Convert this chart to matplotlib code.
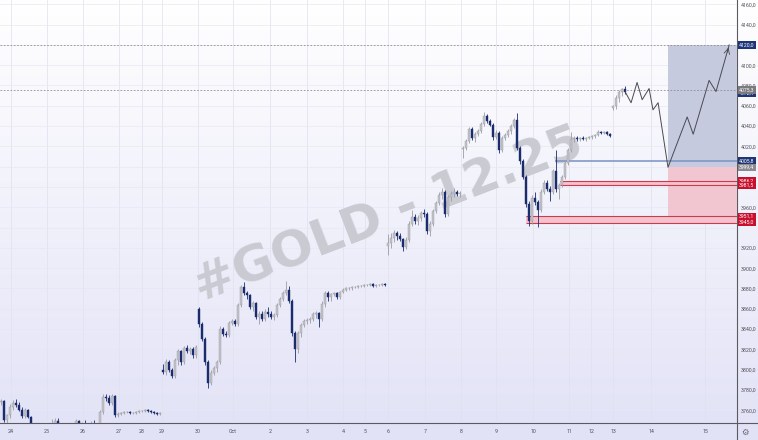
import matplotlib.pyplot as plt
import matplotlib.transforms as mtransforms
from matplotlib.colors import LinearSegmentedColormap
import numpy as np

plt.rcParams['font.family'] = ['Roboto', 'DejaVu Sans']

# 2h candles, index based x axis (weekends kept as in the source)
opens = [3768, 3769, 3750, 3755, 3763, 3767, 3765, 3760, 3754, 3760, 3753, 3740, 3735, 3738, 3733, 3740, 3736,
         3742, 3746, 3749, 3745, 3740, 3736, 3738, 3740, 3744, 3749, 3741, 3745, 3742, 3745, 3747, 3745,
         3742, 3758, 3773, 3772, 3767, 3774, 3755, 3756, 3757, 3758, 3758, 3757, 3757, 3758, 3759, 3759,
         3760, 3759, 3758, 3757, 3756,
         3800, 3798, 3808, 3800, 3794, 3810, 3818, 3808, 3821, 3818, 3820, 3814, 3860, 3845, 3830, 3808,
         3787, 3797, 3802, 3808, 3840, 3835, 3834, 3846, 3848, 3845, 3864, 3881, 3876, 3874, 3862, 3866,
         3852, 3855, 3850, 3857, 3855, 3852, 3854, 3864, 3870, 3876, 3879, 3868, 3836, 3820, 3836, 3844,
         3848, 3849, 3850, 3855, 3856, 3850, 3865, 3876, 3872, 3875, 3876, 3872, 3877, 3879, 3880, 3880,
         3881, 3881, 3882, 3882, 3883, 3883, 3884, 3882, 3883, 3883, 3884,
         3922, 3925, 3930, 3935, 3932, 3929, 3921, 3928, 3944, 3950, 3946, 3949, 3954, 3953, 3937, 3944,
         3956, 3964, 3972, 3975, 3953, 3970, 3973, 3975, 3973,
         4017, 4018, 4025, 4037, 4028, 4032, 4035, 4042, 4050, 4045, 4041, 4029, 4033, 4016, 4028, 4031,
         4035, 4040, 4046, 4018, 4006, 3990, 3963, 3946, 3969, 3965, 3957, 3975, 3984, 3978, 3975, 3996,
         3978, 3982, 3990, 4004, 4016, 4027, 4028, 4027, 4028, 4027, 4028, 4029, 4030, 4031, 4034, 4033,
         4034, 4032,
         4058, 4060, 4068, 4074, 4077]
highs = [3771, 3770, 3756, 3766, 3770, 3771, 3768, 3763, 3762, 3761, 3754, 3743, 3740, 3741, 3742, 3744, 3745,
         3751, 3752, 3752, 3747, 3743, 3740, 3742, 3745, 3751, 3750, 3748, 3750, 3747, 3749, 3750, 3747,
         3760, 3776, 3776, 3775, 3776, 3775, 3758, 3758, 3759, 3759, 3759, 3758, 3759, 3760, 3760, 3761,
         3761, 3760, 3759, 3758, 3758,
         3806, 3811, 3810, 3802, 3812, 3820, 3819, 3823, 3824, 3822, 3822, 3824, 3862, 3847, 3832, 3810,
         3800, 3804, 3810, 3843, 3842, 3838, 3848, 3850, 3850, 3866, 3883, 3886, 3878, 3875, 3868, 3867,
         3858, 3858, 3860, 3862, 3858, 3856, 3866, 3872, 3878, 3887, 3882, 3870, 3838, 3838, 3846, 3850,
         3851, 3852, 3857, 3858, 3857, 3868, 3878, 3878, 3876, 3877, 3877, 3878, 3880, 3881, 3881, 3882,
         3882, 3883, 3883, 3884, 3884, 3885, 3885, 3884, 3884, 3885, 3885,
         3934, 3935, 3938, 3937, 3935, 3930, 3931, 3946, 3957, 3953, 3952, 3956, 3958, 3955, 3946, 3958,
         3966, 3975, 3979, 3977, 3972, 3976, 3979, 3977, 3976,
         4020, 4027, 4039, 4039, 4034, 4037, 4044, 4054, 4052, 4047, 4043, 4036, 4035, 4030, 4033, 4037,
         4042, 4048, 4053, 4020, 4008, 3992, 3966, 3972, 3975, 3967, 3978, 3987, 3987, 3981, 3998, 4016,
         3984, 3992, 4006, 4018, 4034, 4030, 4030, 4029, 4030, 4029, 4030, 4031, 4032, 4036, 4035, 4035,
         4035, 4033,
         4061, 4071, 4076, 4078, 4079]
lows = [3765, 3748, 3746, 3752, 3760, 3763, 3759, 3752, 3752, 3752, 3738, 3732, 3730, 3731, 3730, 3734, 3734,
        3740, 3744, 3744, 3738, 3733, 3732, 3734, 3737, 3742, 3739, 3739, 3740, 3738, 3742, 3743, 3740,
        3741, 3756, 3769, 3765, 3765, 3753, 3753, 3755, 3756, 3757, 3756, 3756, 3756, 3757, 3758, 3758,
        3758, 3757, 3756, 3755, 3755,
        3796, 3795, 3798, 3792, 3792, 3805, 3805, 3806, 3816, 3815, 3812, 3812, 3842, 3828, 3805, 3782,
        3785, 3795, 3798, 3806, 3833, 3832, 3832, 3844, 3843, 3843, 3862, 3874, 3870, 3860, 3858, 3850,
        3845, 3848, 3848, 3852, 3850, 3849, 3852, 3862, 3868, 3874, 3866, 3833, 3808, 3816, 3832, 3842,
        3845, 3846, 3848, 3851, 3842, 3848, 3862, 3868, 3868, 3873, 3870, 3870, 3876, 3878, 3879, 3879,
        3880, 3880, 3881, 3881, 3882, 3882, 3881, 3881, 3882, 3882, 3882,
        3913, 3920, 3926, 3928, 3927, 3917, 3919, 3926, 3942, 3944, 3943, 3946, 3950, 3934, 3932, 3942,
        3954, 3962, 3968, 3950, 3951, 3966, 3970, 3971, 3970,
        4009, 4016, 4023, 4026, 4024, 4030, 4033, 4040, 4043, 4040, 4026, 4027, 4013, 4014, 4026, 4029,
        4032, 4038, 4016, 4003, 3988, 3960, 3942, 3944, 3962, 3941, 3955, 3973, 3976, 3966, 3973, 3975,
        3968, 3980, 3988, 4002, 4014, 4024, 4025, 4025, 4026, 4025, 4027, 4027, 4028, 4030, 4032, 4032,
        4031, 4029,
        4056, 4057, 4064, 4070, 4072]
closes = [3769, 3750, 3755, 3763, 3767, 3765, 3760, 3754, 3760, 3753, 3740, 3735, 3738, 3733, 3740, 3736, 3742,
          3746, 3749, 3745, 3740, 3736, 3738, 3740, 3744, 3749, 3741, 3745, 3742, 3745, 3747, 3745, 3742,
          3758, 3773, 3772, 3767, 3774, 3755, 3756, 3757, 3758, 3758, 3757, 3757, 3758, 3759, 3759, 3760,
          3759, 3758, 3757, 3756, 3757,
          3798, 3808, 3800, 3794, 3810, 3818, 3808, 3821, 3818, 3820, 3814, 3822, 3845, 3830, 3808, 3787,
          3797, 3802, 3808, 3840, 3835, 3834, 3846, 3848, 3845, 3864, 3881, 3876, 3874, 3862, 3866, 3852,
          3855, 3850, 3857, 3855, 3852, 3854, 3864, 3870, 3876, 3879, 3868, 3836, 3820, 3836, 3844, 3848,
          3849, 3850, 3855, 3856, 3850, 3865, 3876, 3872, 3875, 3876, 3872, 3877, 3879, 3880, 3880, 3881,
          3881, 3882, 3882, 3883, 3883, 3884, 3882, 3883, 3883, 3884, 3883,
          3925, 3930, 3935, 3932, 3929, 3921, 3928, 3944, 3950, 3946, 3949, 3954, 3953, 3937, 3944, 3956,
          3964, 3972, 3975, 3953, 3970, 3973, 3975, 3973, 3974,
          4018, 4025, 4037, 4028, 4032, 4035, 4042, 4050, 4045, 4041, 4029, 4033, 4016, 4028, 4031, 4035,
          4040, 4046, 4018, 4006, 3990, 3963, 3946, 3969, 3965, 3957, 3975, 3984, 3978, 3975, 3996, 3978,
          3982, 3990, 4004, 4016, 4027, 4028, 4027, 4028, 4027, 4028, 4029, 4030, 4031, 4034, 4033, 4034,
          4032, 4030,
          4060, 4068, 4074, 4077, 4074]

# projected path drawn after the last candle
proj_x = [208, 210, 212, 213.7, 216, 217.3, 219, 222.3, 228.7, 230.7, 236, 238.3, 242.7]
proj_y = [4074, 4063, 4083, 4066, 4077, 4056, 4063, 3999.4, 4049, 4032, 4085, 4074, 4120]

day_pos = [3.3, 15.3, 27.3, 39.3, 47, 53.7, 65.7, 77.3, 89.7, 102, 114, 121.3, 129, 141.3, 153.3,
           165, 177.3, 189.3, 196.7, 204, 216.7, 234.7]
day_labels = ['24', '25', '26', '27', '28', '29', '30', 'Oct', '2', '3', '4', '5', '6', '7', '8', '9',
              '10', '11', '12', '13', '14', '15']

target = 4120.0
pivot = 3999.4
last_level = 4075.3
blue_level = 4005.8
red_bands = [(3986.2, 3981.5), (3951.1, 3945.0)]
red_band_start = [186.3, 175.0]
blue_start = 184.7
box_start = 222.3

tag_prices = [4072.4, 4075.3, 4120.0, 4005.8, 3999.4, 3986.2, 3981.5, 3951.1, 3945.0]
tag_colors = ['#1e3578', '#7a7a80', '#1e3578', '#1e3578', '#8a8a90', '#c8102e', '#c8102e', '#c8102e', '#c8102e']
hidden_ticks = [4120, 4000, 3980, 3940]

X0, X1 = -0.33, 245.3
Y0, Y1 = 3747.5, 4164.2

fig = plt.figure(figsize=(7.58, 4.40), dpi=100)

bg = fig.add_axes([0, 0, 1, 1])
cmap = LinearSegmentedColormap.from_list('bg', ['#ffffff', '#e2e2f7'])
bg.imshow(np.linspace(0, 1, 256).reshape(-1, 1), cmap=cmap, aspect='auto', extent=[0, 1, 0, 1])
bg.axhline(17 / 440, color='#5a5a60', lw=0.8)
bg.axvline(737 / 758, color='#5a5a60', lw=0.8)
bg.set_xlim(0, 1)
bg.set_ylim(0, 1)
bg.axis('off')

ax = fig.add_axes([0, 17 / 440, 737 / 758, 423 / 440])
ax.patch.set_alpha(0)
ax.set_xlim(X0, X1)
ax.set_ylim(Y0, Y1)

yticks = np.arange(3760, 4161, 20)
for d in day_pos:
    ax.axvline(d, color='#e0e0ee', lw=0.5, zorder=0.5)
for t in yticks:
    ax.axhline(t, color='#e8e8f3', lw=0.5, zorder=0.5)

ax.text(0.527, 0.49, '#GOLD - 12.25', transform=ax.transAxes, rotation=21, fontsize=36,
        fontweight='bold', family='DejaVu Sans', color='#cacad3', ha='center', va='center', zorder=1)

# zones
ax.fill_between([box_start, X1], pivot, target, color='#c5cadf', lw=0, zorder=1.2)
ax.fill_between([box_start, X1], red_bands[1][0], pivot, color='#f1c6d1', lw=0, zorder=1.2)

ax.axhline(target, color='#8c8c90', lw=0.6, ls=(0, (2, 2)), zorder=1.5)
ax.axhline(last_level, color='#8c8c90', lw=0.6, ls=(0, (2, 2)), zorder=1.5)
ax.hlines(blue_level, blue_start, X1, color='#7a92c2', lw=1.1, zorder=1.6)
for (hi, lo), xs in zip(red_bands, red_band_start):
    ax.fill_between([xs, X1], lo, hi, color='#f3c2cc', lw=0, zorder=1.6)
    ax.hlines([hi, lo], xs, X1, color='#cc3a52', lw=0.8, zorder=1.7)

# candles
x = np.arange(len(closes))
o = np.array(opens, float)
c = np.array(closes, float)
up = c >= o
body_colors = np.where(up, '#c2c2c8', '#1b2c6c')
wick_colors = np.where(up, '#9c9ca4', '#1b2c6c')
ax.vlines(x, lows, highs, colors=wick_colors, lw=0.6, zorder=2)
body_lo = np.minimum(o, c)
body_h = np.maximum(np.abs(c - o), 0.8)
ax.bar(x, body_h, bottom=body_lo, width=0.8, color=body_colors, edgecolor=wick_colors,
       lw=0.3, zorder=2.2)

ax.plot(proj_x, proj_y, color='#4a4a50', lw=0.7, zorder=3)
ax.annotate('', xy=(proj_x[-1], proj_y[-1]), xytext=(proj_x[-2] + 3.5, proj_y[-2] + 36),
            arrowprops=dict(arrowstyle='->', color='#4a4a50', lw=0.6), zorder=3)

# axes
ax.yaxis.tick_right()
ax.set_yticks(yticks)
ax.set_yticklabels(['' if v in hidden_ticks else f'{v:.1f}'.replace('.', ',') for v in yticks])
ax.set_xticks(day_pos)
ax.set_xticklabels(day_labels)
ax.tick_params(axis='both', length=0, labelsize=3.8, labelcolor='#505058')
ax.tick_params(axis='y', pad=2.5)
ax.tick_params(axis='x', pad=4)
for s in ax.spines.values():
    s.set_visible(False)

trans = mtransforms.blended_transform_factory(ax.transAxes, ax.transData)
for p, col in zip(tag_prices, tag_colors):
    ax.text(1.003, p, f'{p:.1f}'.replace('.', ','), transform=trans, ha='left', va='center',
            fontsize=3.7, color='white', clip_on=False, zorder=10,
            bbox=dict(boxstyle='square,pad=0.25', fc=col, ec='none'))

fig.text(745 / 758, 1 - 432 / 440, '⚙', fontsize=6, color='#666670', ha='center', va='center',
         family='DejaVu Sans')

fig.savefig('out.png', dpi=100)
